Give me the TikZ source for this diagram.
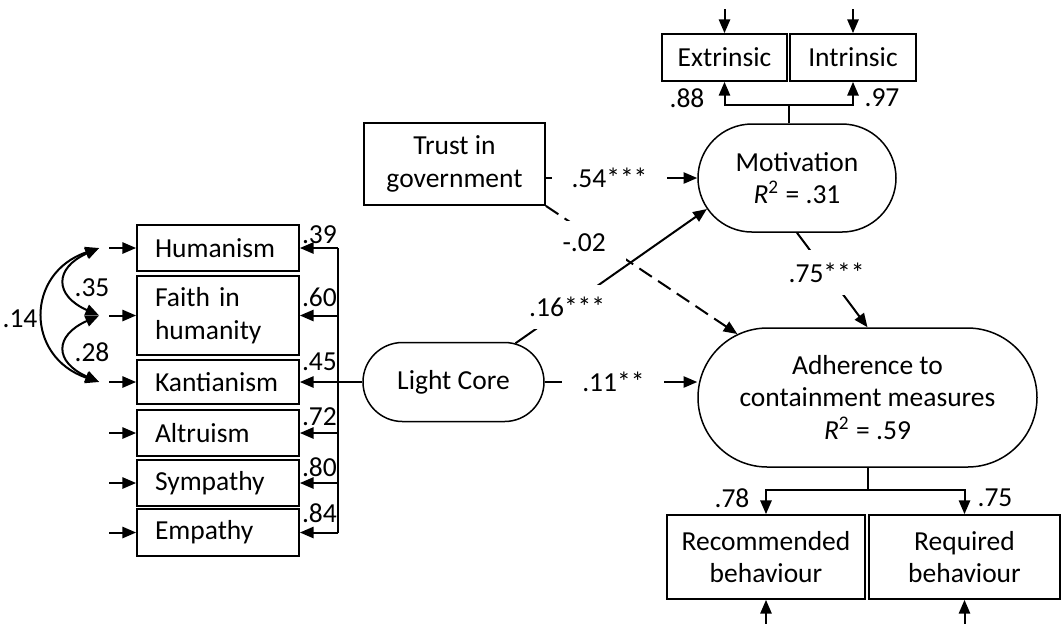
\documentclass[tikz,border=0pt]{standalone}
\usepackage{fontspec}
\setmainfont{Carlito}
\usetikzlibrary{arrows.meta}
\usetikzlibrary{shapes.misc}
\tikzstyle{obs}=[draw, line width=0.7pt, align=center, inner sep=0pt]
\tikzstyle{indic}=[obs, align=left, text width=50.4pt, inner xsep=7.2pt, minimum width=64.8pt]
\tikzstyle{latent}=[draw, line width=0.6pt, rounded rectangle, align=center, inner sep=0pt]
\tikzstyle{arr}=[-{Triangle[length=5.5pt, width=4.5pt]}, line width=0.8pt]
\tikzstyle{cov}=[{Triangle[length=5.5pt, width=4.5pt]}-{Triangle[length=5.5pt, width=4.5pt]}, line width=0.8pt]
\tikzstyle{coef}=[fill=white, inner xsep=8pt, inner ysep=5pt]
\tikzstyle{num}=[inner sep=1pt]

\begin{document}
\begin{tikzpicture}[x=0.4pt, y=-0.4pt, font=\fontsize{11}{13}\selectfont]
  \useasboundingbox (0,0) rectangle (1061,623);

  % light core and its indicators
  \node[indic, minimum height=18.4pt] (hum)   at (218,248)   {Humanism};
  \node[indic, minimum height=31.6pt] (faith) at (218,315.5) {Faith in\\humanity};
  \node[indic, minimum height=17.6pt] (kant)  at (218,382)   {Kantianism};
  \node[indic, minimum height=18.4pt] (alt)   at (218,433)   {Altruism};
  \node[indic, minimum height=18.4pt] (sym)   at (218,483)   {Sympathy};
  \node[indic, minimum height=18.8pt] (emp)   at (218,532.5) {Empathy};
  \node[latent, minimum width=72.4pt, minimum height=31.6pt] (lc) at (453.5,382) {Light Core};

  % predictors and outcomes
  \node[obs, minimum width=72.4pt, minimum height=32.8pt]     (trust) at (454.5,164) {Trust in\\government};
  \node[latent, minimum width=79.2pt, minimum height=43.2pt]  (mot)   at (797,178)   {Motivation\\\textit{R}\textsuperscript{2} = .31};
  \node[latent, minimum width=135.6pt, minimum height=55.6pt] (adh)   at (867.5,397.5) {Adherence to\\containment measures\\\textit{R}\textsuperscript{2} = .59};
  \node[obs, minimum width=50pt, minimum height=18.8pt]       (ext)   at (724.5,57.5) {Extrinsic};
  \node[obs, minimum width=50.4pt, minimum height=18.8pt]     (int)   at (853,57.5)   {Intrinsic};
  \node[obs, minimum width=79.2pt, minimum height=33.6pt]     (rec)   at (766,557)    {Recommended\\behaviour};
  \node[obs, minimum width=76.4pt, minimum height=33.6pt]     (req)   at (964.5,557)  {Required\\behaviour};

  % loadings of the light core
  \coordinate (bartop) at (338,248);
  \coordinate (barbot) at (338,532.5);
  \draw[line width=0.8pt] (bartop) -- (barbot);
  \draw[line width=0.8pt] (lc.west) -- (bartop |- lc.west);
  \foreach \n/\v/\y in {hum/.39/235, faith/.60/297, kant/.45/362, alt/.72/417, sym/.80/467, emp/.84/513} {
    \draw[arr] (bartop |- \n.east) -- (\n.east);
    \draw[arr] ([xshift=-10.8pt]\n.west) -- (\n.west);
    \node[num, anchor=west] (l\n) at (299,\y) {\v};
  }

  % error covariances
  \coordinate (chum)   at ([xshift=-14.8pt]hum.west);
  \coordinate (cfaith) at ([xshift=-14.8pt]faith.west);
  \coordinate (ckant)  at ([xshift=-14.8pt]kant.west);
  \draw[cov] (chum) .. controls +(-45,20) and +(-45,-20) .. (cfaith);
  \draw[cov] (cfaith) .. controls +(-45,20) and +(-45,-20) .. (ckant);
  \draw[cov] (chum) .. controls +(-74,25) and +(-74,-25) .. (ckant);
  \node[num] (c35) at (92,288) {.35};
  \node[num] (c28) at (92,352) {.28};
  \node[num] (c14) at (20,319) {.14};

  % motivation indicators
  \coordinate (mjoin) at (788.5,105);
  \draw[line width=0.8pt] (mot.north -| mjoin) -- (mjoin);
  \draw[arr] (mjoin) -| (ext.south);
  \draw[arr] (mjoin) -| (int.south);
  \draw[arr] ([yshift=9.6pt]ext.north) -- (ext.north);
  \draw[arr] ([yshift=9.6pt]int.north) -- (int.north);
  \node[num] (l88) at (687,98) {.88};
  \node[num] (l97) at (882,98) {.97};

  % adherence indicators
  \coordinate (ajoin) at (867.5,490);
  \draw[line width=0.8pt] (adh.south) -- (ajoin);
  \draw[arr] (ajoin) -| (rec.north);
  \draw[arr] (ajoin) -| (req.north);
  \draw[arr] ([yshift=-9.6pt]rec.south) -- (rec.south);
  \draw[arr] ([yshift=-9.6pt]req.south) -- (req.south);
  \node[num] (l78) at (732,498) {.78};
  \node[num] (l75) at (995,498) {.75};

  % structural paths
  \draw[arr] (trust.east |- mot.west) -- node[coef, pos=0.42] (p54) {.54***} (mot.west);
  \draw[arr, dash pattern=on 6pt off 3pt] (trust.south east) -- node[coef, pos=0.2, yshift=-4.4pt] (p02) {-.02} (adh.154);
  \draw[arr] (lc.32) -- node[coef, pos=0.27] (p16) {.16***} (mot.199);
  \draw[arr] (lc.east) -- node[coef, pos=0.45] (p11) {.11**} (lc.east -| adh.west);
  \draw[arr] (mot.south) -- node[coef, pos=0.42] (p75) {.75***} (adh.north);
\end{tikzpicture}
\end{document}
